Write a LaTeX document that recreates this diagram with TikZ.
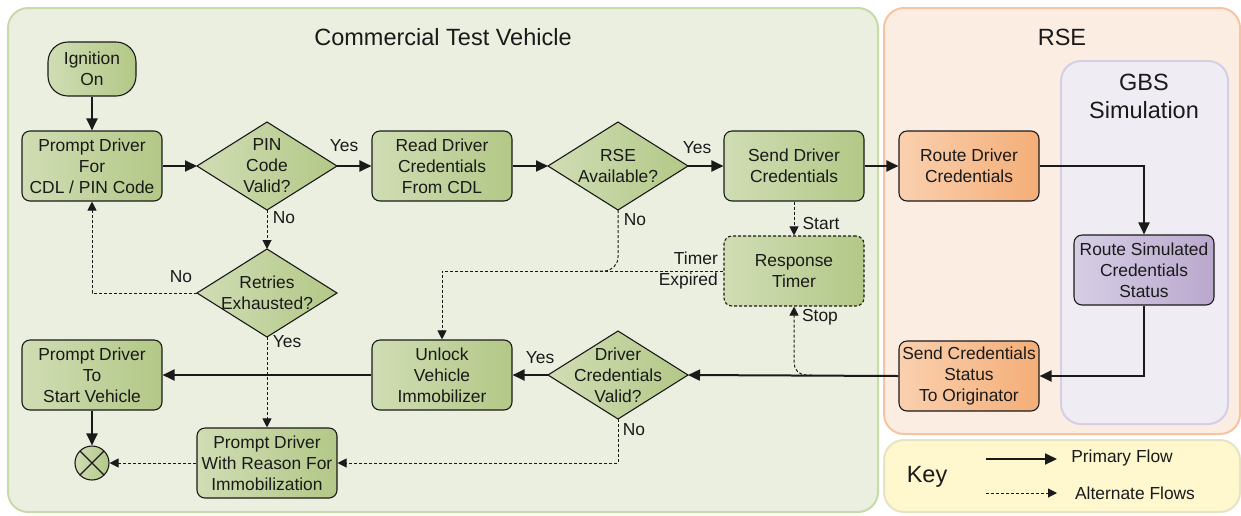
\documentclass[tikz,border=0pt]{standalone}
\usepackage{fontspec}
\setmainfont{Liberation Sans}
\usetikzlibrary{arrows.meta,calc}
\definecolor{gL}{HTML}{D0DDB4}
\definecolor{gR}{HTML}{B3C887}
\definecolor{oL}{HTML}{FAD0AF}
\definecolor{oR}{HTML}{F4AE78}
\definecolor{pL}{HTML}{D6CEE5}
\definecolor{pR}{HTML}{BAA8CD}
\definecolor{vehFill}{HTML}{EBEFDF}
\definecolor{vehLine}{HTML}{C7DBA9}
\definecolor{rseFill}{HTML}{FCEDE3}
\definecolor{rseLine}{HTML}{F7C4A1}
\definecolor{gbsFill}{HTML}{EFEDF3}
\definecolor{gbsLine}{HTML}{D5CEE5}
\definecolor{keyFill}{HTML}{FFF7CD}
\definecolor{keyLine}{HTML}{E6E4C4}
\definecolor{ink}{HTML}{1A1A1A}
\tikzset{
  x=1pt,y=-1pt,
  panel/.style={rounded corners=20pt,line width=2pt},
  boxtxt/.style={font=\fontsize{17.4}{21}\selectfont,align=center,text=ink},
  gbox/.style={boxtxt,draw=ink,line width=1.1pt,rounded corners=8pt,left color=gL,right color=gR,minimum width=140pt,minimum height=70pt,inner sep=1pt},
  obox/.style={gbox,left color=oL,right color=oR},
  pbox/.style={gbox,left color=pL,right color=pR},
  decis/.style={draw=ink,line width=1.1pt,left color=gL,right color=gR},
  prim/.style={draw=ink,line width=2pt,-{Triangle[length=12pt,width=11pt]}},
  alt/.style={draw=ink,line width=1pt,dash pattern=on 3pt off 2pt,-{Triangle[length=9pt,width=9pt]}},
  altline/.style={draw=ink,line width=1pt,dash pattern=on 3pt off 2pt},
  elabel/.style={font=\fontsize{17.4}{21}\selectfont,text=ink,inner sep=0pt},
  klabel/.style={font=\fontsize{17.4}{21}\selectfont,text=ink,inner sep=0pt},
  title/.style={font=\fontsize{23.5}{28}\selectfont,text=ink,align=center},
}
\newcommand{\diam}[4]{% name, x, y, text
  \path[decis] (#2-70,#3) -- (#2,#3-44) -- (#2+70,#3) -- (#2,#3+44) -- cycle;
  \node[boxtxt,inner sep=0pt] (#1) at (#2,#3) {#4};
  \coordinate (#1-W) at (#2-70,#3);
  \coordinate (#1-E) at (#2+70,#3);
  \coordinate (#1-N) at (#2,#3-44);
  \coordinate (#1-S) at (#2,#3+44);
}
\begin{document}
\begin{tikzpicture}
\useasboundingbox (0,0) rectangle (1241,515);
\fill[white] (0,0) rectangle (1241,515);
% panels
\path[panel,fill=vehFill,draw=vehLine] (8,8) rectangle (878,512);
\path[panel,fill=rseFill,draw=rseLine] (884,8) rectangle (1240,434);
\path[panel,fill=gbsFill,draw=gbsLine] (1061,61) rectangle (1228,424);
\path[panel,fill=keyFill,draw=keyLine] (884,440) rectangle (1240,512);
\node[title] (tveh) at (443,37) {Commercial Test Vehicle};
\node[title] (trse) at (1062,37) {RSE};
\node[title] (tgbs) at (1144,96) {GBS\\Simulation};
% nodes
\node[gbox,rounded corners=20pt,minimum width=88pt,minimum height=54pt] (ign) at (92,69) {Ignition\\On};
\node[gbox] (pcdl) at (92,166) {Prompt Driver\\For\\CDL / PIN Code};
\diam{pin}{267}{166}{PIN\\Code\\Valid?}
\node[gbox] (read) at (442,166) {Read Driver\\Credentials\\From CDL};
\diam{rse}{618}{166}{RSE\\Available?}
\node[gbox] (send) at (794,166) {Send Driver\\Credentials};
\node[obox] (route) at (969,166) {Route Driver\\Credentials};
\node[pbox] (rsim) at (1144,270) {Route Simulated\\Credentials\\Status};
\node[obox] (scred) at (969,376) {Send Credentials\\Status\\To Originator};
\diam{ret}{267}{293}{Retries\\Exhausted?}
\node[gbox,dash pattern=on 3pt off 2pt] (timer) at (794,271) {Response\\Timer};
\diam{dcv}{618}{375}{Driver\\Credentials\\Valid?}
\node[gbox] (unlock) at (442,375) {Unlock\\Vehicle\\Immobilizer};
\node[gbox] (pstart) at (92,375) {Prompt Driver\\To\\Start Vehicle};
\node[gbox] (preason) at (267,463) {Prompt Driver\\With Reason For\\Immobilization};
\node[draw=ink,line width=1.1pt,circle,minimum size=34pt,inner sep=0pt,left color=gL,right color=gR] (endc) at (92,463) {};
\draw[ink,line width=1.1pt] ($(endc.center)+(-12,-12)$) -- ($(endc.center)+(12,12)$)
  ($(endc.center)+(-12,12)$) -- ($(endc.center)+(12,-12)$);
% primary flows
\draw[prim] (ign) -- (pcdl);
\draw[prim] (pcdl.east) -- (pin-W);
\draw[prim] (pin-E) -- (read.west);
\draw[prim] (read.east) -- (rse-W);
\draw[prim] (rse-E) -- (send.west);
\draw[prim] (send.east) -- (route.west);
\draw[prim] (route.east) -| (rsim.north);
\draw[prim] (rsim.south) |- (scred.east);
\draw[prim] (scred.west) -- (dcv-E);
\draw[prim] (dcv-W) -- (unlock.east);
\draw[prim] (unlock.west) -- (pstart.east);
\draw[prim] (pstart.south) -- (endc.north);
% alternate flows
\draw[alt] (pin-S) -- (ret-N);
\draw[alt] (ret-W) -| (pcdl.south);
\draw[alt] (ret-S) -- (preason.north);
\draw[alt] (send.south) -- (timer.north);
\draw[alt] (timer.west) -| (unlock.north);
\draw[altline,rounded corners=14pt] (rse-S) |- ($(rse-S |- timer.west)+(-30,0)$);
\coordinate (stopstart) at (812,375);
\draw[alt,rounded corners=12pt] (stopstart) -| (timer.south);
\draw[alt] (dcv-S) |- (preason.east);
\draw[alt] (preason.west) -- (endc.east);
% labels
\node[elabel] (lpy) at (344,146) {Yes};
\node[elabel] (lpn) at (284,218) {No};
\node[elabel] (lrn) at (181,277) {No};
\node[elabel] (lry) at (287,342) {Yes};
\node[elabel] (lsy) at (697,148) {Yes};
\node[elabel] (lsn) at (635,220) {No};
\node[elabel] (lst) at (821,224) {Start};
\node[elabel] (lsp) at (820,317) {Stop};
\node[elabel,align=right,anchor=east] (lte) at (718,270) {Timer\\Expired};
\node[elabel] (ldy) at (540,358) {Yes};
\node[elabel] (ldn) at (634,430) {No};
% key
\node[title] (kkey) at (927,477) {Key};
\coordinate (k1a) at (986,459);
\coordinate (k1b) at (1057,459);
\coordinate (k2a) at (986,493);
\coordinate (k2b) at (1057,493);
\draw[prim] (k1a) -- (k1b);
\draw[alt] (k2a) -- (k2b);
\node[klabel] (kpf) at (1122,458) {Primary Flow};
\node[klabel] (kaf) at (1135,493) {Alternate Flows};
\end{tikzpicture}
\end{document}
